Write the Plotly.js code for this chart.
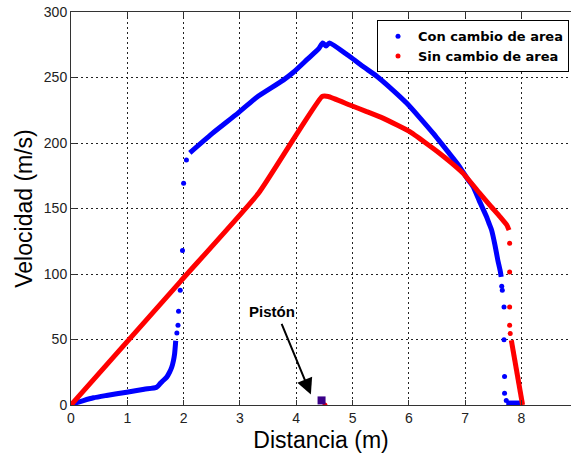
<!DOCTYPE html>
<html>
<head>
<meta charset="utf-8">
<script src="https://cdn.plot.ly/plotly-3.0.1.min.js"></script>
<style>html,body{margin:0;padding:0;background:#fff;}#chart{width:571px;height:455px;}</style>
</head>
<body>
<div id="chart"></div>
<script>
// Series names
const seriesNames = ["Con cambio de area", "Sin cambio de area"];

// "Con cambio de area" (blue) — densely sampled parts
const conDense1X = [0, 0.10, 0.22, 0.40, 0.63, 0.99, 1.30, 1.52, 1.58, 1.62, 1.70, 1.75, 1.79, 1.82, 1.84, 1.86];
const conDense1V = [0, 1.8, 3.4, 5.5, 7.3, 9.8, 12.0, 13.6, 16.2, 18.0, 21.3, 25.0, 29.0, 34.0, 39.0, 49.0];
const conDense2X = [2.11, 2.50, 2.97, 3.30, 3.77, 3.95, 4.20, 4.40, 4.47, 4.53, 4.59, 4.95, 5.20, 5.43, 5.70, 5.96, 6.20, 6.43, 6.70, 6.90, 7.05, 7.14, 7.25, 7.38, 7.43, 7.47, 7.53, 7.58, 7.62, 7.64];
const conDense2V = [192.5, 207, 223, 235, 248, 254, 264, 272, 276.4, 274, 276.4, 266, 258, 251, 241, 230.5, 219, 207.5, 193, 182, 172, 166.7, 156, 143.7, 138, 133.5, 122, 110.6, 103, 97.8];
const conDense3X = [7.73, 8.00];
const conDense3V = [1.5, 1.5];
// isolated dots
const conSparseX = [1.88, 1.90, 1.91, 1.94, 1.98, 2.00, 2.05, 7.65, 7.66, 7.69, 7.69, 7.70, 7.70, 7.73];
const conSparseV = [55, 60.8, 71.6, 87.6, 118, 169.3, 187, 90.6, 87.6, 74.8, 49.9, 21.8, 9, 3.4];

// "Sin cambio de area" (red)
const sinDense1X = [0, 1.95, 3.33, 4.46, 4.57, 4.95, 5.25, 5.54, 5.80, 6.01, 6.30, 6.55, 6.75, 6.96, 7.26, 7.45, 7.62, 7.74, 7.78];
const sinDense1V = [0, 94.6, 161.6, 235.5, 235.5, 229, 224, 219, 213.5, 208.8, 200, 192, 185, 177, 161.6, 152, 143.7, 137.4, 133.5];
const sinDense2X = [7.82, 8.02];
const sinDense2V = [49.4, 0];
const sinSparseX = [7.79, 7.79, 7.79, 7.79, 7.80, 4.51];
const sinSparseV = [123.4, 101.6, 74.8, 60.8, 54.5, 0];

// Piston marker
const pistonX = [4.45];
const pistonV = [3.5];

// Axis ticks
const xTicks = [0, 1, 2, 3, 4, 5, 6, 7, 8];
const yTicks = [0, 50, 100, 150, 200, 250, 300];

const blue = "#0000ff", red = "#ff0000";
const lw = 5;

const traces = [
  {x: conSparseX, y: conSparseV, mode: "markers", name: seriesNames[0],
   marker: {color: blue, size: 5}, showlegend: true},
  {x: sinSparseX, y: sinSparseV, mode: "markers", name: seriesNames[1],
   marker: {color: red, size: 5}, showlegend: true},
  {x: conDense1X, y: conDense1V, mode: "lines", line: {color: blue, width: lw, shape: "spline", smoothing: 0.6}, showlegend: false},
  {x: conDense2X, y: conDense2V, mode: "lines", line: {color: blue, width: lw, shape: "spline", smoothing: 0.5}, showlegend: false},
  {x: conDense3X, y: conDense3V, mode: "lines", line: {color: blue, width: lw}, showlegend: false},
  {x: sinDense1X, y: sinDense1V, mode: "lines", line: {color: red, width: lw, shape: "spline", smoothing: 0.4}, showlegend: false},
  {x: sinDense2X, y: sinDense2V, mode: "lines", line: {color: red, width: lw}, showlegend: false},
  {x: pistonX, y: pistonV, mode: "markers", marker: {symbol: "square", color: "#3a0088", size: 8}, showlegend: false}
];

const tickFont = {family: "Liberation Sans, Arial, sans-serif", size: 14, color: "#222"};
const titleFont = {family: "Liberation Sans, Arial, sans-serif", size: 23, color: "#000"};

const layout = {
  width: 571, height: 455,
  margin: {l: 71, r: 0, t: 12, b: 50},
  paper_bgcolor: "#fff", plot_bgcolor: "#fff",
  showlegend: true,
  legend: {
    x: 0.996, y: 0.979, xanchor: "right", yanchor: "top",
    bgcolor: "#fff", bordercolor: "#000", borderwidth: 1,
    font: {family: "DejaVu Sans, sans-serif", size: 13, color: "#000", weight: 700},
    tracegroupgap: 0
  },
  xaxis: {
    range: [0, 8.88], tickvals: xTicks, ticktext: xTicks.map(String),
    ticks: "inside", ticklen: 5, tickcolor: "#333",
    showline: true, linecolor: "#333", linewidth: 1, mirror: "ticks",
    showgrid: true, gridcolor: "#222", griddash: "2px,3px", gridwidth: 1,
    zeroline: false, tickfont: tickFont,
    title: {text: "Distancia (m)", font: titleFont, standoff: 7}
  },
  yaxis: {
    range: [0, 300], tickvals: yTicks, ticktext: yTicks.map(String),
    ticks: "inside", ticklen: 5, tickcolor: "#333",
    showline: true, linecolor: "#333", linewidth: 1, mirror: false,
    showgrid: true, gridcolor: "#222", griddash: "2px,3px", gridwidth: 1,
    zeroline: false, tickfont: tickFont,
    title: {text: "Velocidad (m/s)", font: titleFont, standoff: 4}
  },
  annotations: [
    {x: 3.57, y: 71, xref: "x", yref: "y", text: "Pistón", showarrow: false,
     font: {family: "Liberation Sans, Arial, sans-serif", size: 15, color: "#000", weight: 700}},
    {x: 4.26, y: 8, xref: "x", yref: "y", ax: 3.73, ay: 63, axref: "x", ayref: "y",
     text: "", showarrow: true, arrowhead: 2, arrowsize: 1.6, arrowwidth: 2, arrowcolor: "#000"}
  ]
};

Plotly.newPlot("chart", traces, layout, {displayModeBar: false, staticPlot: true});
</script>
</body>
</html>
